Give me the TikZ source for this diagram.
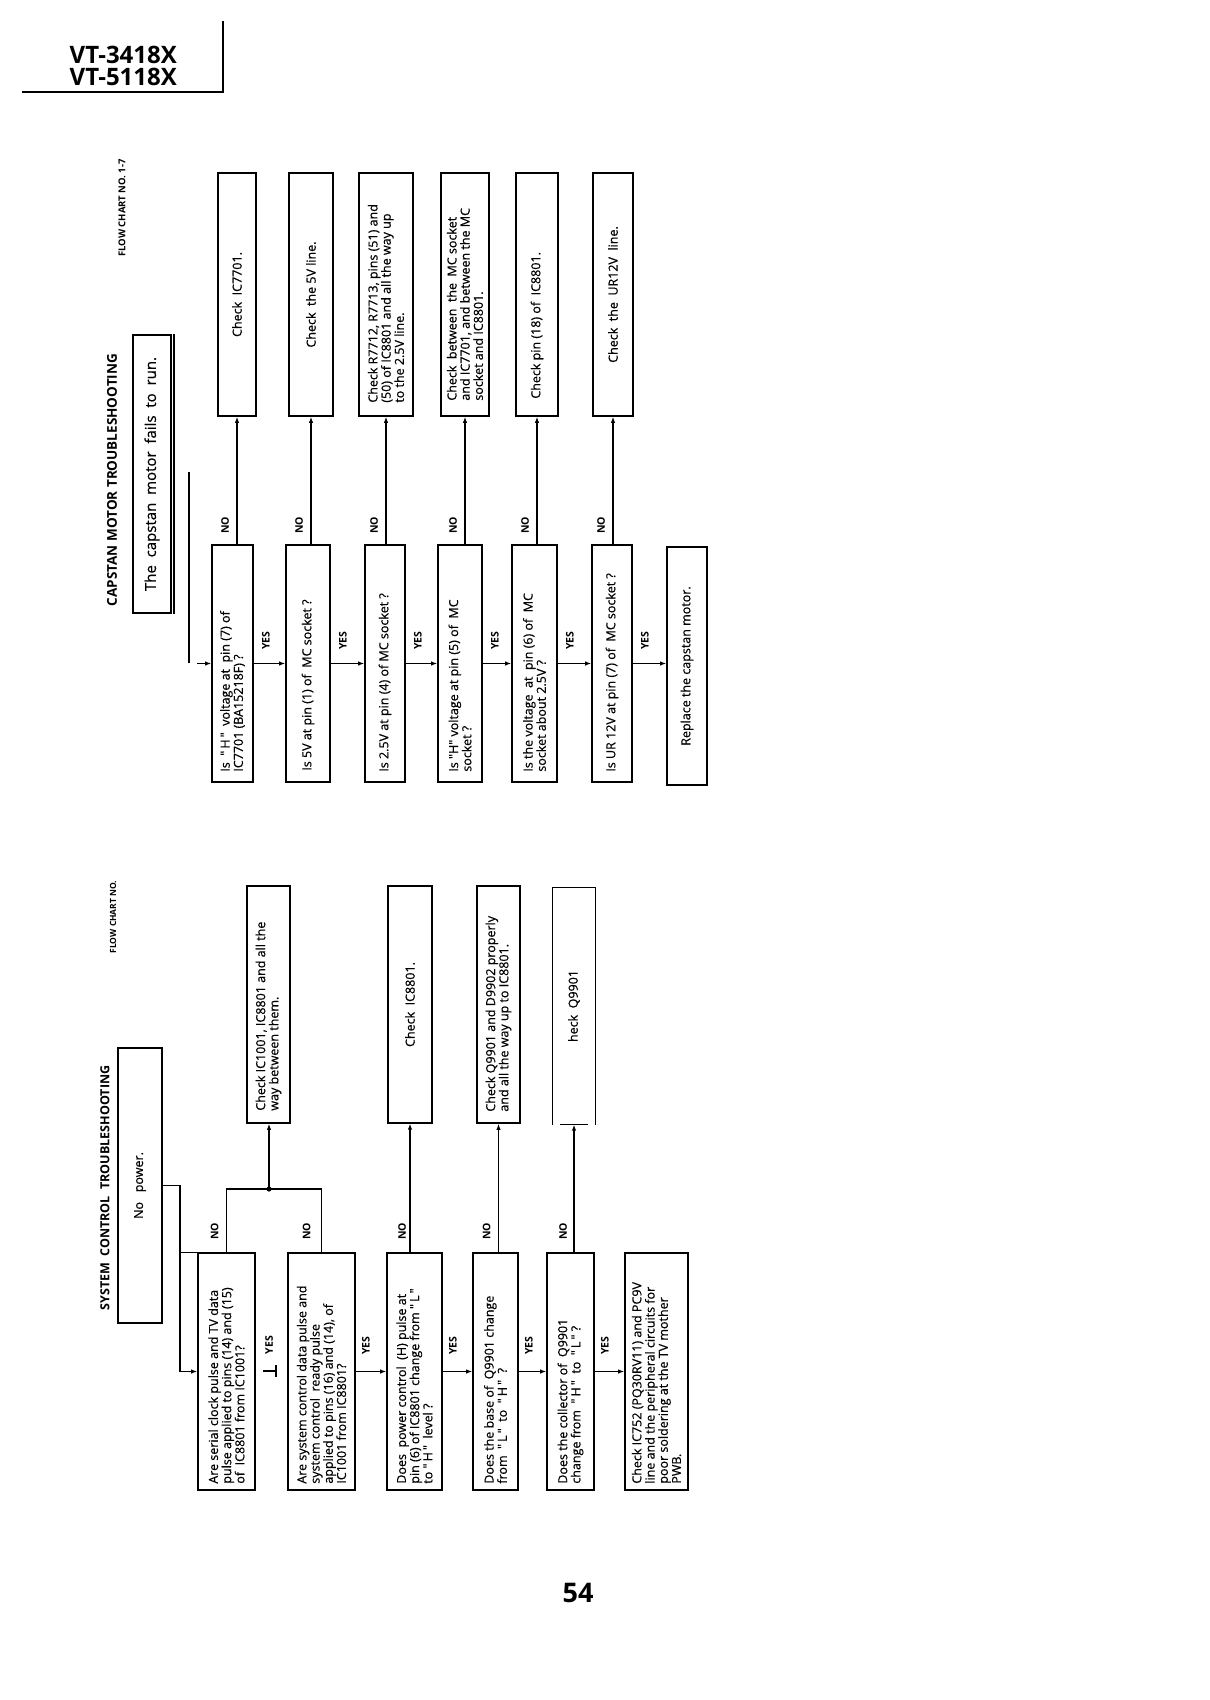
\documentclass[tikz,border=0pt]{standalone}
\usepackage{fontspec}
\setmainfont{Open Sans}
\newfontfamily\bxf{Open Sans}[FakeBold=0.45]
\usetikzlibrary{arrows.meta,calc}
\begin{document}
\begin{tikzpicture}[x=1pt,y=-1pt,
  bx/.style={draw, line width=1.7pt, rotate=90, inner sep=0pt, align=center, font=\bxf\fontsize{12.5}{13.2}\selectfont},
  nobx/.style={rotate=90, inner sep=0pt, align=center, font=\bxf\fontsize{12.5}{13.2}\selectfont},
  txt/.style={rotate=90, anchor=west, align=left, inner sep=0pt, font=\bxf\fontsize{12.5}{13.2}\selectfont},
  conn/.style={line width=1.1pt},
  arr/.style={conn, -{Latex[length=6pt,width=4.5pt]}},
  lbl/.style={rotate=90, font=\bfseries\fontsize{10.5}{11}\selectfont, inner sep=0pt},
  ttl/.style={rotate=90, font=\bfseries\fontsize{12.5}{14}\selectfont, inner sep=0pt},
  fct/.style={rotate=90, font=\bfseries\fontsize{9.5}{10}\selectfont, inner sep=0pt},
]
\useasboundingbox[fill=white] (0,0) rectangle (1210,1700);

% header
\node[font=\bfseries\fontsize{24}{22}\selectfont, align=right, anchor=east, inner sep=0pt] (hdr) at (177,66) {VT-3418X\\VT-5118X};
\draw[line width=1.5pt] (22,92) -- (223,92) -- (223,21);
\node[font=\bfseries\fontsize{27}{30}\selectfont, inner sep=0pt] (pg) at (578,1593) {54};

% ================= capstan chart =================
\node[ttl, font=\bfseries\fontsize{13.5}{14}\selectfont] (t1) at (112,480) {CAPSTAN MOTOR TROUBLESHOOTING};
\node[fct] (f1) at (122,208) {FLOW CHART NO. 1-7};
\node[bx, minimum width=278, minimum height=38, font=\bxf\fontsize{15}{16}\selectfont] (start) at (152,474) {The\ \ capstan\ \ motor\ \ fails\ \ to\ \ run.};
\draw[line width=2pt] ([xshift=2pt]start.south east) -- ([xshift=2pt]start.south west);
\coordinate (e1) at (189,472);
\coordinate (e2) at (189,663);
\coordinate (e3) at (197,666);
\draw[conn] (e1) -- (e2);

% check boxes
\node[bx, minimum width=243, minimum height=38] (c1) at (237,294.5) {Check\ \ IC7701.};
\node[bx, minimum width=243, minimum height=44] (c2) at (311,294.5) {Check\ \ the 5V line.};
\node[bx, minimum width=243, minimum height=54] (c3) at (386,294.5) {};
\node[txt] at ($(c3.west)+(0,-14)$) {Check R7712, R7713, pins (51) and\\(50) of IC8801 and all the way up\\to the 2.5V line.};
\node[bx, minimum width=243, minimum height=48] (c4) at (465,294.5) {};
\node[txt] at ($(c4.west)+(0,-16)$) {Check\ \ between\ \ the\ \ MC socket\\and IC7701, and between the MC\\socket and IC8801.};
\node[bx, minimum width=243, minimum height=42] (c5) at (537,294.5) {};
\node[txt] at ($(c5.west)+(0,-18)$) {Check pin (18) of\ \ IC8801.};
\node[bx, minimum width=243, minimum height=40] (c6) at (613,294.5) {Check\ \ the\ \ UR12V\ \ line.};

% question boxes
\node[bx, minimum width=237, minimum height=41] (q1) at (232.5,663.5) {};
\node[txt] at ($(q1.west)+(0,-11)$) {Is\ \ "\,H\,"\ \ voltage at\ \ pin (7) of\\IC7701 (BA15218F) ?};
\node[bx, minimum width=237, minimum height=44] (q2) at (308,663.5) {};
\node[txt] at ($(q2.west)+(0,-12)$) {Is 5V at pin (1) of\ \ MC socket ?};
\node[bx, minimum width=237, minimum height=40] (q3) at (385,663.5) {};
\node[txt] at ($(q3.west)+(0,-11)$) {Is 2.5V at pin (4) of MC socket ?};
\node[bx, minimum width=237, minimum height=44] (q4) at (460,663.5) {};
\node[txt] at ($(q4.west)+(0,-11)$) {Is "H" voltage at pin (5) of\ \ MC\\socket ?};
\node[bx, minimum width=237, minimum height=45] (q5) at (534.5,663.5) {};
\node[txt] at ($(q5.west)+(0,-11)$) {Is the voltage\ \ at\ \ pin (6) of\ \ MC\\socket about 2.5V ?};
\node[bx, minimum width=237, minimum height=40] (q6) at (612,663.5) {};
\node[txt] at ($(q6.west)+(0,-11)$) {Is UR 12V at pin (7) of\ \ MC socket ?};
\node[bx, minimum width=238, minimum height=40] (rep) at (687,666) {Replace the capstan motor.};

\draw[arr] (q1.north -| e3) -- (q1.north);

% NO connectors
\draw[arr, line width=2.4pt] (q1.east -| c1.west) -- (c1.west);
\draw[arr] (q2.east -| c2.west) -- (c2.west);
\draw[arr] (q3.east -| c3.west) -- (c3.west);
\draw[arr] (q4.east -| c4.west) -- (c4.west);
\draw[arr] (q5.east -| c5.west) -- (c5.west);
\draw[arr] (q6.east -| c6.west) -- (c6.west);
\foreach \q/\c in {q1/c1,q2/c2,q3/c3,q4/c4,q5/c5,q6/c6}{
  \node[lbl] at ($(\q.east -| \c.west)+(-12,-19)$) {NO};
}
% YES connectors
\draw[arr] (q1.south) -- (q2.north);
\draw[arr] (q2.south) -- (q3.north);
\draw[arr] (q3.south) -- (q4.north);
\draw[arr] (q4.south) -- (q5.north);
\draw[arr] (q5.south) -- (q6.north);
\draw[arr] (q6.south) -- (q6.south -| rep.north);
\foreach \q in {q1,q2,q3,q4,q5,q6}{
  \node[lbl] at ($(\q.south)+(12,-23)$) {YES};
}

% ================= system control chart =================
\node[ttl] (t2) at (105,1188) {SYSTEM\ \ CONTROL\ \ TROUBLESHOOTING};
\node[fct, font=\bfseries\fontsize{8.5}{9}\selectfont] (f2) at (113,917) {FLOW CHART NO.};
\node[bx, minimum width=275, minimum height=44] (np) at (140,1185.5) {No\ \ \ power.};

\node[bx, minimum width=237, minimum height=43] (sc1) at (268.5,1004.5) {};
\node[txt] at ($(sc1.west)+(0,-13)$) {Check IC1001, IC8801 and all the\\way between them.};
\node[bx, minimum width=237, minimum height=44, line width=1.2pt] (sc2) at (410,1004.5) {Check\ \ IC8801.};
\node[bx, minimum width=237, minimum height=43] (sc3) at (498.5,1004.5) {};
\node[txt] at ($(sc3.west)+(0,-12)$) {Check Q9901 and D9902 properly\\and all the way up to IC8801.};
\node[nobx, minimum width=237, minimum height=42] (sc4) at (574,1006) {heck\ \ Q9901};
\draw[line width=1.2pt] (sc4.north west) -- (sc4.north east) -- (sc4.south east) -- (sc4.south west);
\draw[line width=1.2pt] ($(sc4.north west)!0.17!(sc4.south west)$) -- ($(sc4.north west)!0.83!(sc4.south west)$);

\node[bx, minimum width=237, minimum height=57] (s1) at (226.5,1371.5) {};
\node[txt] at ($(s1.west)+(0,-7)$) {Are serial clock pulse and TV data\\pulse applied to pins (14) and (15)\\of\ \ IC8801 from IC1001?};
\node[bx, minimum width=237, minimum height=67] (s2) at (321.5,1371.5) {};
\node[txt] at ($(s2.west)+(0,-7)$) {Are system control data pulse and\\system control\ \ ready pulse\\applied to pins (16) and (14), of\\IC1001 from IC8801?};
\node[bx, minimum width=237, minimum height=55] (s3) at (414.5,1371.5) {};
\node[txt] at ($(s3.west)+(0,-7)$) {Does\ \ power control\ \ (H) pulse at\\pin (6) of IC8801 change from "\,L\,"\\to "\,H\," \ level ?};
\node[bx, minimum width=237, minimum height=45] (s4) at (495.5,1371.5) {};
\node[txt] at ($(s4.west)+(0,-7)$) {Does the base of\ \ Q9901 change\\from\ \ "\,L\,"\ \ to\ \ "\,H\,"\ \ ?};
\node[bx, minimum width=237, minimum height=47] (s5) at (570.5,1371.5) {};
\node[txt] at ($(s5.west)+(0,-7)$) {Does the collector of\ \ Q9901\\change from\ \ "\,H\,"\ \ to\ \ "\,L\,"\ ?};
\node[bx, minimum width=237, minimum height=63] (s6) at (656.5,1371.5) {};
\node[txt] at ($(s6.west)+(0,-7)$) {Check IC752 (PQ30RV11) and PC9V\\line and the peripheral circuits for\\poor soldering at the TV mother\\PWB.};

\coordinate (nb) at (180,1188);
\draw[arr] (np.south) -- (np.south -| nb) |- (s1.north);
\draw[conn] (s1.north east) -- (s1.north east -| nb);
\coordinate (sj) at (269,1189);
\draw[conn] (s1.east) |- (sj) -| (s2.east);
\draw[arr] (sj) -- (sj |- sc1.west);
\fill (sj) circle (2.6);
\node[lbl] at ($(s1.east)+(-12,-21)$) {NO};
\node[lbl] at ($(s2.east)+(-15,-21)$) {NO};

\draw[arr, line width=2.4pt] (s3.east -| sc2.west) -- (sc2.west);
\draw[arr] (s4.east -| sc3.west) -- (sc3.west);
\draw[arr] (s5.east -| sc4.west) -- (sc4.west);
\node[lbl] at ($(s3.east -| sc2.west)+(-8,-21)$) {NO};
\node[lbl] at ($(s4.east -| sc3.west)+(-12,-21)$) {NO};
\node[lbl] at ($(s5.east -| sc4.west)+(-11,-21)$) {NO};

\draw[arr] (s2.south) -- (s3.north);
\draw[arr] (s3.south) -- (s4.north);
\draw[arr] (s4.south) -- (s5.north);
\draw[arr] (s5.south) -- (s6.north);
\foreach \q in {s2,s3,s4,s5}{
  \node[lbl] at ($(\q.south)+(10,-26)$) {YES};
}
% stray YES mark under the first question
\node[lbl] (oddyes) at (269,1345) {YES};
\draw[conn] (263,1371) -- (276,1371);
\draw[conn] (276,1365) -- (276,1377);
\end{tikzpicture}
\end{document}
